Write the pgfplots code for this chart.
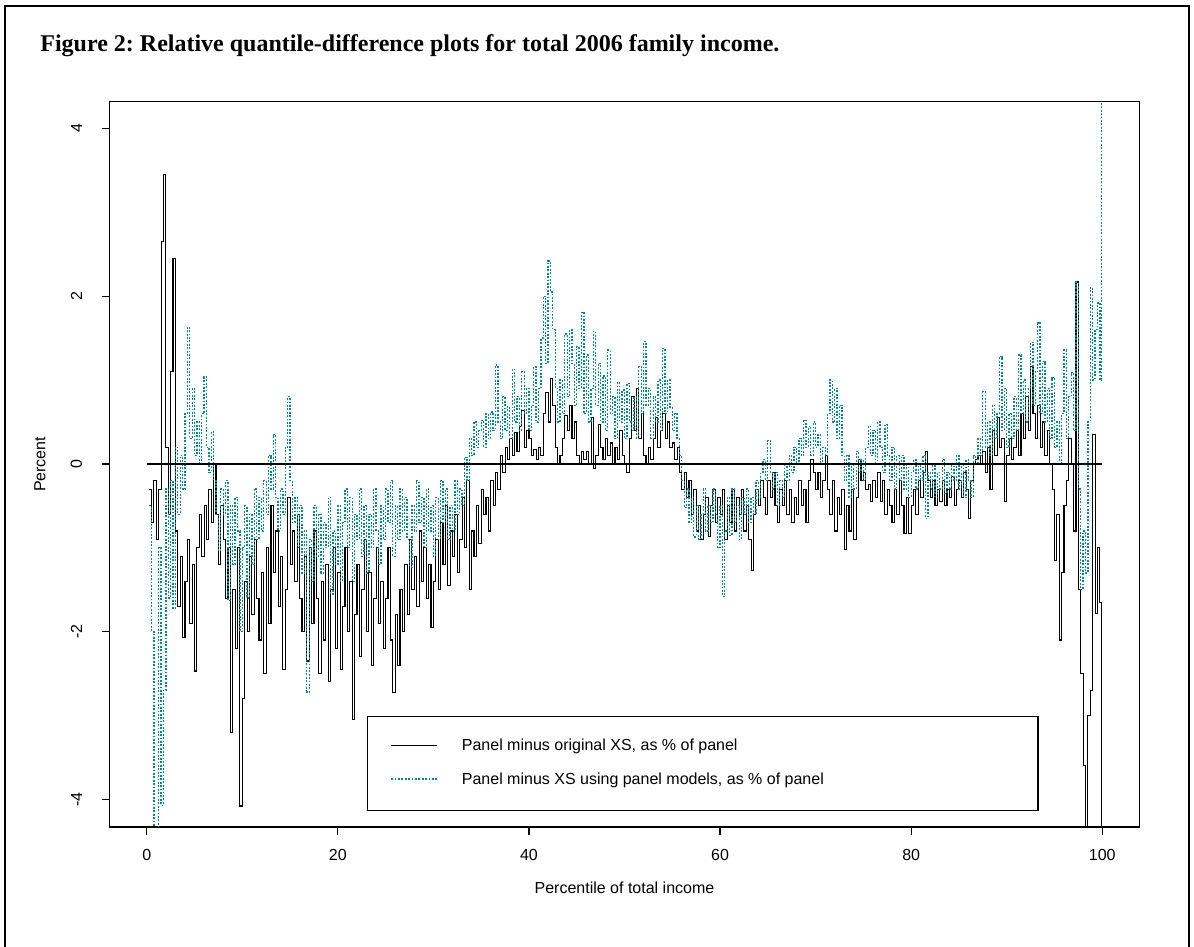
\documentclass[border=0pt]{standalone}
\usepackage{pgfplots}
\pgfplotsset{compat=1.18}
\usepackage{fontspec}
\setmainfont{Liberation Sans}
\newfontfamily\titlefont{Liberation Serif}
\definecolor{rteal}{RGB}{0,139,139}
\begin{document}
\frenchspacing
\begin{tikzpicture}
\useasboundingbox (0,0) rectangle (597pt,473.5pt);
\draw[line width=1.2pt] (2.5pt,0pt) -- (2.5pt,470.6pt) -- (594.5pt,470.6pt) -- (594.5pt,0pt);
\node[anchor=base west, inner sep=0pt] at (20pt,447.6pt) {\titlefont\bfseries\fontsize{12}{14}\selectfont Figure 2: Relative quantile-difference plots for total 2006 family income.};
\begin{axis}[
  at={(54.75pt,60pt)}, anchor=south west,
  width=515pt, height=362.65pt, scale only axis,
  xmin=-3.9, xmax=103.9, ymin=-4.33, ymax=4.32,
  axis line style={line width=0.6pt},
  xtick={0,20,40,60,80,100}, xticklabels={0,20,40,60,80,100},
  ytick={-4,-2,0,2,4}, yticklabels={-4,-2,0,2,4},
  xtick pos=bottom, ytick pos=left,
  tick align=outside, major tick length=4pt,
  tick style={line width=0.6pt, black},
  ticklabel style={font=\fontsize{8}{9.6}\selectfont},
  xticklabel style={inner sep=0pt, anchor=north, yshift=-7pt},
  yticklabel style={inner sep=0pt, xshift=-9.5pt, rotate=90, anchor=south},
  xlabel={Percentile of total income},
  ylabel={Percent},
  label style={font=\fontsize{8}{9.6}\selectfont},
  xlabel style={at={(axis description cs:0.5,-0.0841)}, anchor=center, inner sep=0pt},
  ylabel style={at={(axis description cs:-0.0675,0.5)}, anchor=center, rotate=0, inner sep=0pt},
  legend style={at={(axis cs:23.05,-3.007)}, anchor=north west, draw=black, line width=0.6pt,
    inner xsep=11.5pt, inner ysep=11pt, row sep=9pt, column sep=0pt,
    nodes={inner sep=0pt, text height=6pt, text depth=2pt, font=\fontsize{8}{9.6}\selectfont},
    legend cell align=left},
  legend image code/.code={\draw[#1] (0pt,0.8pt) -- (23pt,0.8pt); \path (35pt,0.8pt);},
]
\addplot[black, line width=0.55pt, const plot] coordinates {
(0.25,-0.3) (0.5,-0.7) (0.75,-0.2) (1.0,-0.9) (1.25,-0.3) (1.5,2.65) (1.75,3.45) (2.0,0.2)
(2.25,-0.6) (2.5,1.1) (2.75,2.45) (3.0,-0.8) (3.25,-1.7) (3.5,-1.1) (3.75,-2.07) (4.0,-1.4)
(4.25,-0.9) (4.5,-1.9) (4.75,-1.2) (5.0,-2.47) (5.25,-1.0) (5.5,-0.6) (5.75,-1.1) (6.0,-0.5)
(6.25,-0.9) (6.5,-0.3) (6.75,-0.7) (7.0,0.0) (7.25,-0.6) (7.5,-1.2) (7.75,-0.5) (8.0,-0.9)
(8.25,-1.6) (8.5,-1.0) (8.75,-3.2) (9.0,-1.5) (9.25,-2.2) (9.5,-1.0) (9.75,-4.08) (10.0,-2.8)
(10.25,-1.4) (10.5,-2.0) (10.75,-1.1) (11.0,-1.8) (11.25,-0.9) (11.5,-1.6) (11.75,-2.1) (12.0,-1.3)
(12.25,-2.5) (12.5,-1.0) (12.75,-1.9) (13.0,-0.5) (13.25,-1.3) (13.5,-0.8) (13.75,-1.7) (14.0,-1.1)
(14.25,-2.45) (14.5,-1.5) (14.75,-0.4) (15.0,-1.2) (15.25,-0.8) (15.5,-1.4) (15.75,-0.6) (16.0,-1.6)
(16.25,-2.0) (16.5,-1.1) (16.75,-2.35) (17.0,-1.0) (17.25,-1.9) (17.5,-0.8) (17.75,-1.6) (18.0,-2.5)
(18.25,-1.4) (18.5,-2.1) (18.75,-1.2) (19.0,-2.6) (19.25,-1.5) (19.5,-1.0) (19.75,-2.2) (20.0,-1.3)
(20.25,-2.45) (20.5,-1.7) (20.75,-1.0) (21.0,-2.0) (21.25,-1.4) (21.5,-3.05) (21.75,-1.8) (22.0,-1.2)
(22.25,-2.3) (22.5,-1.5) (22.75,-0.9) (23.0,-2.0) (23.25,-1.3) (23.5,-2.4) (23.75,-1.6) (24.0,-1.0)
(24.25,-1.9) (24.5,-1.4) (24.75,-2.2) (25.0,-1.6) (25.25,-1.0) (25.5,-2.1) (25.75,-2.73) (26.0,-1.8)
(26.25,-2.4) (26.5,-1.5) (26.75,-2.0) (27.0,-1.2) (27.25,-1.8) (27.5,-0.9) (27.75,-1.5) (28.0,-1.1)
(28.25,-1.7) (28.5,-0.8) (28.75,-1.4) (29.0,-1.0) (29.25,-1.6) (29.5,-1.2) (29.75,-1.95) (30.0,-1.4)
(30.25,-0.9) (30.5,-1.5) (30.75,-0.7) (31.0,-1.2) (31.25,-0.5) (31.5,-1.45) (31.75,-0.8) (32.0,-1.1)
(32.25,-0.6) (32.5,-1.3) (32.75,-0.9) (33.0,-0.4) (33.25,-1.0) (33.5,-0.2) (33.75,-1.5) (34.0,-0.8)
(34.25,-1.1) (34.5,-0.5) (34.75,-0.95) (35.0,-0.3) (35.25,-0.6) (35.5,-0.4) (35.75,-0.8) (36.0,-0.2)
(36.25,-0.5) (36.5,-0.1) (36.75,-0.3) (37.0,0.1) (37.25,-0.1) (37.5,0.2) (37.75,0.05) (38.0,0.3)
(38.25,0.1) (38.5,0.37) (38.75,0.15) (39.0,0.45) (39.25,0.64) (39.5,0.2) (39.75,0.4) (40.0,0.3)
(40.25,0.1) (40.5,0.17) (40.75,0.05) (41.0,0.2) (41.25,0.1) (41.5,0.6) (41.75,0.85) (42.0,0.5)
(42.25,1.02) (42.5,0.7) (42.75,0.2) (43.0,0.0) (43.25,0.1) (43.5,0.3) (43.75,0.58) (44.0,0.4)
(44.25,0.7) (44.5,0.3) (44.75,0.5) (45.0,0.1) (45.25,0.0) (45.5,0.15) (45.75,0.05) (46.0,0.15)
(46.25,0.0) (46.5,0.55) (46.75,-0.05) (47.0,0.1) (47.25,0.47) (47.5,0.2) (47.75,0.05) (48.0,0.3)
(48.25,0.1) (48.5,0.25) (48.75,0.0) (49.0,0.2) (49.25,0.05) (49.5,0.4) (49.75,0.1) (50.0,0.0)
(50.25,-0.1) (50.5,0.3) (50.75,0.8) (51.0,0.4) (51.25,0.9) (51.5,0.3) (51.75,0.6) (52.0,0.1)
(52.25,0.0) (52.5,0.2) (52.75,0.05) (53.0,0.3) (53.25,0.55) (53.5,0.2) (53.75,0.4) (54.0,0.6)
(54.25,0.3) (54.5,0.5) (54.75,0.2) (55.0,0.25) (55.25,0.05) (55.5,0.2) (55.75,-0.1) (56.0,-0.3)
(56.25,-0.1) (56.5,-0.4) (56.75,-0.2) (57.0,-0.6) (57.25,-0.3) (57.5,-0.8) (57.75,-0.5) (58.0,-0.9)
(58.25,-0.6) (58.5,-0.4) (58.75,-0.87) (59.0,-0.5) (59.25,-0.3) (59.5,-0.7) (59.75,-0.4) (60.0,-0.6)
(60.25,-0.3) (60.5,-0.9) (60.75,-0.5) (61.0,-0.7) (61.25,-0.3) (61.5,-0.8) (61.75,-0.4) (62.0,-0.6)
(62.25,-0.3) (62.5,-0.8) (62.75,-0.5) (63.0,-0.9) (63.25,-1.27) (63.5,-0.6) (63.75,-0.3) (64.0,-0.5)
(64.25,-0.2) (64.5,-0.4) (64.75,-0.6) (65.0,-0.2) (65.25,-0.4) (65.5,-0.1) (65.75,-0.5) (66.0,-0.7)
(66.25,-0.3) (66.5,-0.5) (66.75,-0.2) (67.0,-0.6) (67.25,-0.3) (67.5,-0.7) (67.75,-0.4) (68.0,-0.6)
(68.25,-0.2) (68.5,-0.5) (68.75,-0.3) (69.0,-0.7) (69.25,-0.2) (69.5,0.05) (69.75,-0.1) (70.0,-0.3)
(70.25,-0.1) (70.5,-0.4) (70.75,-0.2) (71.0,0.1) (71.25,-0.3) (71.5,-0.6) (71.75,-0.2) (72.0,-0.8)
(72.25,-0.4) (72.5,-0.6) (72.75,-0.3) (73.0,-1.02) (73.25,-0.5) (73.5,-0.8) (73.75,-0.3) (74.0,-0.9)
(74.25,-0.4) (74.5,0.05) (74.75,-0.2) (75.0,-0.1) (75.25,-0.3) (75.5,-0.25) (75.75,-0.45) (76.0,-0.2)
(76.25,-0.4) (76.5,-0.1) (76.75,-0.45) (77.0,-0.2) (77.25,-0.6) (77.5,-0.3) (77.75,-0.5) (78.0,-0.7)
(78.25,-0.3) (78.5,-0.6) (78.75,-0.2) (79.0,-0.5) (79.25,-0.83) (79.5,-0.4) (79.75,-0.83) (80.0,-0.5)
(80.25,-0.3) (80.5,-0.6) (80.75,-0.2) (81.0,-0.4) (81.25,-0.1) (81.5,0.15) (81.75,-0.2) (82.0,-0.4)
(82.25,-0.2) (82.5,-0.5) (82.75,-0.3) (83.0,-0.45) (83.25,-0.2) (83.5,-0.5) (83.75,-0.3) (84.0,-0.4)
(84.25,-0.15) (84.5,-0.5) (84.75,-0.3) (85.0,-0.2) (85.25,-0.4) (85.5,-0.1) (85.75,-0.3) (86.0,-0.65)
(86.25,-0.2) (86.5,0.0) (86.75,0.05) (87.0,0.1) (87.25,0.0) (87.5,0.15) (87.75,-0.1) (88.0,0.2)
(88.25,-0.3) (88.5,0.4) (88.75,0.1) (89.0,0.55) (89.25,0.2) (89.5,0.3) (89.75,-0.45) (90.0,0.1)
(90.25,0.3) (90.5,0.05) (90.75,0.2) (91.0,0.4) (91.25,0.1) (91.5,0.6) (91.75,0.3) (92.0,0.8)
(92.25,0.4) (92.5,1.16) (92.75,0.6) (93.0,0.3) (93.25,0.7) (93.5,0.2) (93.75,0.5) (94.0,0.1)
(94.25,0.4) (94.5,0.0) (94.75,-0.3) (95.0,-1.15) (95.25,-0.6) (95.5,-2.1) (95.75,-1.3) (96.0,-0.5)
(96.25,-0.2) (96.5,0.3) (96.75,0.0) (97.0,-0.8) (97.25,2.17) (97.5,-1.5) (97.75,-2.5) (98.0,-3.6)
(98.25,-5.0) (98.5,-3.0) (98.75,-2.7) (99.0,0.35) (99.25,-1.78) (99.5,-1.0) (99.75,-1.65) (99.9,-5.0)
};
\addlegendentry{\makebox[276.5pt][l]{Panel minus original XS, as \% of panel}}
\addplot[rteal, line width=0.65pt, dash pattern=on 0.9pt off 0.8pt, const plot] coordinates {
(0.25,-0.5) (0.5,-2.0) (0.75,-5.0) (1.0,-4.6) (1.25,-1.0) (1.5,-4.07) (1.75,-2.7) (2.0,-0.3)
(2.25,-1.6) (2.5,-0.2) (2.75,-1.72) (3.0,0.2) (3.25,-0.6) (3.5,0.1) (3.75,-0.3) (4.0,0.6)
(4.25,1.63) (4.5,0.3) (4.75,0.9) (5.0,0.1) (5.25,0.5) (5.5,0.0) (5.75,0.6) (6.0,1.04)
(6.25,0.2) (6.5,-0.1) (6.75,0.38) (7.0,-0.2) (7.25,-0.6) (7.5,-1.03) (7.75,-0.3) (8.0,-0.6)
(8.25,-0.2) (8.5,-1.63) (8.75,-0.5) (9.0,-1.2) (9.25,-0.4) (9.5,-0.8) (9.75,-2.0) (10.0,-1.0)
(10.25,-0.5) (10.5,-1.6) (10.75,-0.6) (11.0,-1.2) (11.25,-0.3) (11.5,-0.9) (11.75,-0.4) (12.0,-0.8)
(12.25,-0.2) (12.5,-0.6) (12.75,0.1) (13.0,-0.3) (13.25,0.35) (13.5,-0.4) (13.75,-0.8) (14.0,-0.3)
(14.25,-0.6) (14.5,0.2) (14.75,0.8) (15.0,-0.2) (15.25,-0.7) (15.5,-0.4) (15.75,-1.0) (16.0,-0.5)
(16.25,-1.3) (16.5,-0.8) (16.75,-2.72) (17.0,-0.9) (17.25,-1.4) (17.5,-0.5) (17.75,-1.1) (18.0,-0.6)
(18.25,-1.3) (18.5,-0.7) (18.75,-1.0) (19.0,-0.4) (19.25,-1.55) (19.5,-0.8) (19.75,-1.2) (20.0,-0.5)
(20.25,-1.4) (20.5,-0.7) (20.75,-0.3) (21.0,-1.0) (21.25,-0.4) (21.5,-1.4) (21.75,-0.6) (22.0,-0.9)
(22.25,-0.3) (22.5,-1.1) (22.75,-0.5) (23.0,-1.3) (23.25,-0.6) (23.5,-1.0) (23.75,-0.3) (24.0,-0.8)
(24.25,-1.2) (24.5,-0.5) (24.75,-0.9) (25.0,-0.3) (25.25,-0.7) (25.5,-0.2) (25.75,-1.1) (26.0,-0.5)
(26.25,-0.9) (26.5,-0.3) (26.75,-0.8) (27.0,-0.4) (27.25,-0.9) (27.5,-1.23) (27.75,-0.5) (28.0,-0.8)
(28.25,-0.2) (28.5,-0.7) (28.75,-0.4) (29.0,-1.0) (29.25,-0.3) (29.5,-0.8) (29.75,-0.5) (30.0,-1.1)
(30.25,-0.4) (30.5,-0.9) (30.75,-0.2) (31.0,-0.7) (31.25,-0.3) (31.5,-0.9) (31.75,-0.5) (32.0,-0.8)
(32.25,-0.2) (32.5,-0.6) (32.75,-0.3) (33.0,-0.5) (33.25,0.08) (33.5,-0.2) (33.75,0.3) (34.0,0.1)
(34.25,0.5) (34.5,0.2) (34.75,0.4) (35.0,0.52) (35.25,0.2) (35.5,0.6) (35.75,0.3) (36.0,0.62)
(36.25,0.4) (36.5,1.18) (36.75,0.5) (37.0,0.3) (37.25,0.8) (37.5,0.4) (37.75,0.68) (38.0,0.3)
(38.25,1.13) (38.5,0.5) (38.75,0.8) (39.0,0.4) (39.25,1.1) (39.5,0.6) (39.75,0.9) (40.0,0.4)
(40.25,0.7) (40.5,1.16) (40.75,0.5) (41.0,0.9) (41.25,1.5) (41.5,2.0) (41.75,1.2) (42.0,2.42)
(42.25,2.05) (42.5,1.6) (42.75,0.9) (43.0,0.5) (43.25,1.0) (43.5,0.6) (43.75,1.55) (44.0,0.8)
(44.25,1.6) (44.5,1.2) (44.75,0.7) (45.0,1.4) (45.25,0.9) (45.5,1.81) (45.75,0.6) (46.0,1.3)
(46.25,0.5) (46.5,0.9) (46.75,1.58) (47.0,0.7) (47.25,1.2) (47.5,0.5) (47.75,1.05) (48.0,0.4)
(48.25,1.36) (48.5,0.6) (48.75,0.8) (49.0,0.3) (49.25,0.97) (49.5,0.5) (49.75,0.88) (50.0,0.3)
(50.25,0.96) (50.5,0.5) (50.75,0.4) (51.0,0.8) (51.25,0.3) (51.5,1.16) (51.75,0.6) (52.0,1.46)
(52.25,0.7) (52.5,0.9) (52.75,0.3) (53.0,0.8) (53.25,0.5) (53.5,1.0) (53.75,0.4) (54.0,1.38)
(54.25,0.6) (54.5,1.0) (54.75,0.68) (55.0,0.4) (55.25,0.6) (55.5,0.3) (55.75,0.1) (56.0,-0.2)
(56.25,-0.52) (56.5,-0.3) (56.75,-0.7) (57.0,-0.4) (57.25,-0.87) (57.5,-0.5) (57.75,-0.9) (58.0,-0.6)
(58.25,-0.3) (58.5,-0.8) (58.75,-0.5) (59.0,-0.7) (59.25,-0.3) (59.5,-0.6) (59.75,-1.0) (60.0,-0.5)
(60.25,-1.58) (60.5,-0.8) (60.75,-0.4) (61.0,-0.85) (61.25,-0.3) (61.5,-0.7) (61.75,-0.5) (62.0,-0.9)
(62.25,-0.4) (62.5,-0.6) (62.75,-0.3) (63.0,-0.7) (63.25,-0.4) (63.5,-0.6) (63.75,-0.2) (64.0,-0.4)
(64.25,-0.1) (64.5,0.05) (64.75,-0.2) (65.0,0.28) (65.25,-0.1) (65.5,-0.3) (65.75,-0.1) (66.0,-0.5)
(66.25,-0.2) (66.5,-0.4) (66.75,0.0) (67.0,-0.2) (67.25,0.1) (67.5,-0.1) (67.75,0.2) (68.0,0.0)
(68.25,0.3) (68.5,0.1) (68.75,0.52) (69.0,0.2) (69.25,0.45) (69.5,0.1) (69.75,0.5) (70.0,0.2)
(70.25,0.35) (70.5,0.0) (70.75,0.2) (71.0,0.1) (71.25,0.6) (71.5,1.0) (71.75,0.5) (72.0,0.9)
(72.25,0.3) (72.5,0.7) (72.75,0.1) (73.0,-0.2) (73.25,0.1) (73.5,-0.4) (73.75,0.0) (74.0,-0.3)
(74.25,0.15) (74.5,-0.1) (74.75,0.05) (75.0,-0.2) (75.25,0.2) (75.5,0.45) (75.75,0.1) (76.0,0.4)
(76.25,0.0) (76.5,0.5) (76.75,0.2) (77.0,-0.1) (77.25,0.47) (77.5,0.1) (77.75,-0.2) (78.0,0.2)
(78.25,-0.3) (78.5,0.1) (78.75,-0.2) (79.0,0.1) (79.25,-0.3) (79.5,0.0) (79.75,-0.4) (80.0,-0.1)
(80.25,0.05) (80.5,-0.3) (80.75,0.0) (81.0,-0.2) (81.25,0.1) (81.5,-0.65) (81.75,-0.1) (82.0,-0.3)
(82.25,0.0) (82.5,-0.4) (82.75,-0.1) (83.0,-0.3) (83.25,0.05) (83.5,-0.35) (83.75,-0.1) (84.0,-0.3)
(84.25,0.0) (84.5,-0.2) (84.75,0.1) (85.0,-0.3) (85.25,0.0) (85.5,-0.4) (85.75,0.05) (86.0,-0.2)
(86.25,-0.4) (86.5,0.1) (86.75,0.0) (87.0,0.3) (87.25,0.1) (87.5,0.86) (87.75,0.2) (88.0,0.5)
(88.25,0.1) (88.5,0.7) (88.75,0.3) (89.0,0.6) (89.25,1.28) (89.5,0.4) (89.75,0.9) (90.0,0.2)
(90.25,0.6) (90.5,0.3) (90.75,0.8) (91.0,0.4) (91.25,1.3) (91.5,0.6) (91.75,1.0) (92.0,0.5)
(92.25,0.9) (92.5,1.45) (92.75,0.7) (93.0,1.1) (93.25,1.68) (93.5,0.6) (93.75,1.22) (94.0,0.5)
(94.25,0.9) (94.5,0.3) (94.75,1.03) (95.0,0.2) (95.25,0.5) (95.5,0.0) (95.75,0.6) (96.0,1.36)
(96.25,0.3) (96.5,0.8) (96.75,1.09) (97.0,0.4) (97.25,2.17) (97.5,-0.3) (97.75,-1.5) (98.0,-0.8)
(98.25,-1.3) (98.5,0.5) (98.75,2.1) (99.0,1.0) (99.25,1.6) (99.5,1.92) (99.75,1.0) (99.9,5.0)
};
\addlegendentry{\makebox[276.5pt][l]{Panel minus XS using panel models, as \% of panel}}
\addplot[black, line width=0.6pt, forget plot] coordinates {(0,0) (100,0)};
\end{axis}
\end{tikzpicture}
\end{document}
